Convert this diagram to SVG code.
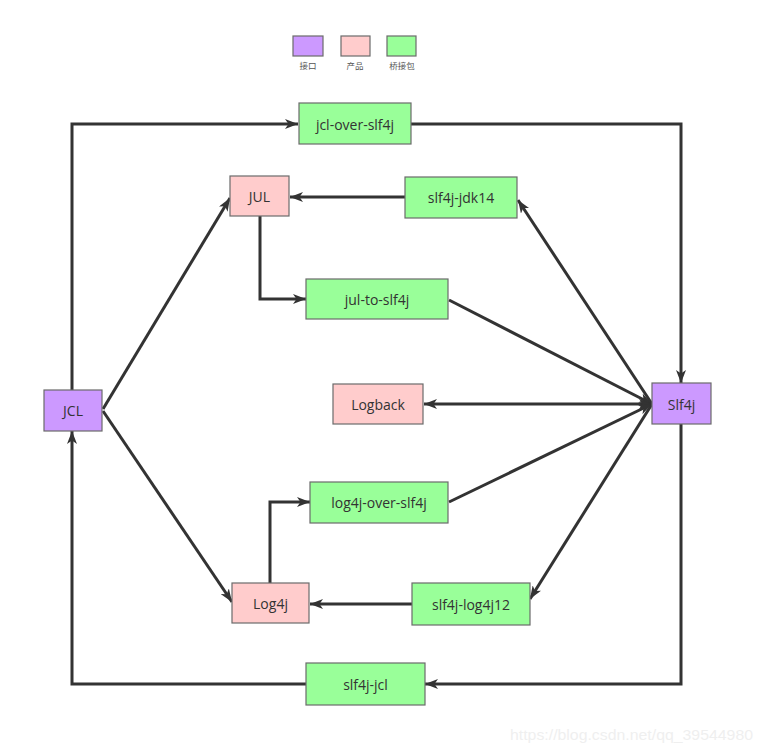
<svg xmlns="http://www.w3.org/2000/svg" width="763" height="752" viewBox="0 0 763 752">
<style>
.n{stroke:#6b6b6b;stroke-width:1.2}
.p{fill:#CC99FF}.k{fill:#FFCCCC}.g{fill:#99FF99}
.t{font-family:"Open Sans","Noto Sans CJK SC",sans-serif;font-size:14px;fill:#333;text-anchor:middle;dominant-baseline:central}
.lg{font-family:"Noto Sans CJK SC",sans-serif;font-size:8.5px;fill:#555;text-anchor:middle}
.c{fill:none;stroke:#333;stroke-width:3;stroke-linejoin:miter}
.e{marker-end:url(#a)}
.s{marker-start:url(#b)}
</style>
<defs>
<marker id="a" markerUnits="userSpaceOnUse" markerWidth="14" markerHeight="10" refX="13" refY="5" orient="auto" viewBox="0 0 14 10">
<path d="M0,0 L13,5 L0,10 L3.5,5 z" fill="#333"/>
</marker>
<marker id="b" markerUnits="userSpaceOnUse" markerWidth="14" markerHeight="10" refX="1" refY="5" orient="auto" viewBox="0 0 14 10">
<path d="M14,0 L1,5 L14,10 L10.5,5 z" fill="#333"/>
</marker>
</defs>
<rect width="763" height="752" fill="#fff"/>
<g id="legend">
<rect class="n p" x="293" y="36" width="30" height="20"/>
<rect class="n k" x="341" y="36" width="29" height="20"/>
<rect class="n g" x="387" y="36" width="29" height="20"/>
<text class="lg" x="308" y="69">接口</text>
<text class="lg" x="355" y="69">产品</text>
<text class="lg" x="402" y="69">桥接包</text>
</g>
<g id="connectors">
<polyline class="c e" points="72,390 72,124 298,124"/>
<polyline class="c e" points="411,124 681,124 681,383"/>
<polyline class="c e" points="681,424 681,684 425,684"/>
<polyline class="c e" points="306,684 72,684 72,431"/>
<line class="c e" x1="103" y1="409" x2="230" y2="198"/>
<line class="c e" x1="103" y1="411" x2="232" y2="602"/>
<line class="c e" x1="405" y1="197" x2="290" y2="197"/>
<polyline class="c e" points="260,216 260,299 306,299"/>
<line class="c e" x1="449" y1="300" x2="652" y2="404"/>
<line class="c e" x1="652" y1="404" x2="518" y2="200"/>
<line class="c e s" x1="424" y1="404" x2="652" y2="404"/>
<line class="c e" x1="449" y1="502" x2="652" y2="404"/>
<line class="c e" x1="652" y1="404" x2="530" y2="599"/>
<line class="c e" x1="412" y1="604" x2="310" y2="604"/>
<polyline class="c e" points="270,583 270,502 310,502"/>
</g>
<g id="jcl-over-slf4j"><rect class="n g" x="299" y="103" width="112" height="41"/><text class="t" x="355" y="124">jcl-over-slf4j</text></g>
<g id="JUL"><rect class="n k" x="230" y="176" width="59" height="40"/><text class="t" x="259.5" y="196">JUL</text></g>
<g id="slf4j-jdk14"><rect class="n g" x="405" y="177" width="112" height="41"/><text class="t" x="461" y="197.5">slf4j-jdk14</text></g>
<g id="jul-to-slf4j"><rect class="n g" x="306" y="279" width="142" height="40"/><text class="t" x="377" y="299">jul-to-slf4j</text></g>
<g id="JCL"><rect class="n p" x="44" y="390" width="58" height="41"/><text class="t" x="73" y="410.5">JCL</text></g>
<g id="Logback"><rect class="n k" x="333" y="384" width="90" height="40"/><text class="t" x="378" y="404">Logback</text></g>
<g id="Slf4j"><rect class="n p" x="652" y="383" width="59" height="41"/><text class="t" x="681.5" y="404">Slf4j</text></g>
<g id="log4j-over-slf4j"><rect class="n g" x="310" y="482" width="138" height="41"/><text class="t" x="379" y="502.5">log4j-over-slf4j</text></g>
<g id="Log4j"><rect class="n k" x="232" y="583" width="77" height="40"/><text class="t" x="270.5" y="603">Log4j</text></g>
<g id="slf4j-log4j12"><rect class="n g" x="412" y="583" width="118" height="42"/><text class="t" x="471" y="604">slf4j-log4j12</text></g>
<g id="slf4j-jcl"><rect class="n g" x="306" y="663" width="119" height="42"/><text class="t" x="365.5" y="684">slf4j-jcl</text></g>
<text x="510" y="740" font-family="Liberation Sans, sans-serif" font-size="15" fill="#efefef" textLength="243" lengthAdjust="spacingAndGlyphs">https://blog.csdn.net/qq_39544980</text>
</svg>
